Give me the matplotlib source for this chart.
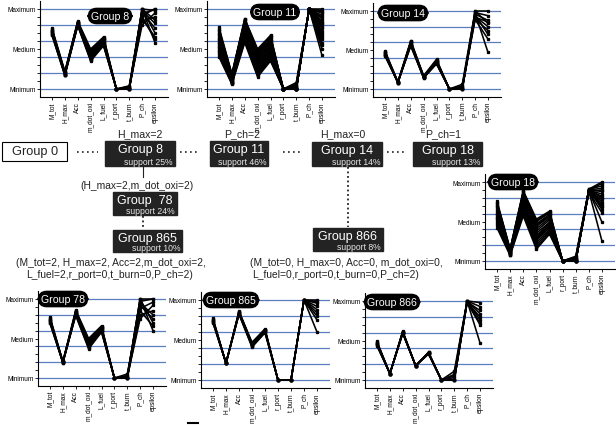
import matplotlib
matplotlib.use('Agg')
import matplotlib.pyplot as plt
from matplotlib.patches import Rectangle

plt.rcParams['font.family'] = ['Liberation Sans', 'DejaVu Sans']

params = ['M_tot', 'H_max', 'Acc', 'm_dot_oxi', 'L_fuel', 'r_port', 't_burn', 'P_ch', 'epsilon']
level_ticks = [0, 0.5, 1]
level_labels = ['Minimum', 'Medium', 'Maximum']

# normalised values, one row per design, columns in order of params
g8_lines = [
    [0.76, 0.22, 0.85, 0.50, 0.65, 0, 0.00, 1.00, 0.98],
    [0.75, 0.21, 0.84, 0.47, 0.64, 0, 0.02, 0.98, 0.82],
    [0.74, 0.20, 0.84, 0.45, 0.62, 0, 0.00, 1.00, 0.70],
    [0.73, 0.20, 0.83, 0.44, 0.61, 0, 0.03, 0.92, 1.00],
    [0.72, 0.19, 0.82, 0.42, 0.60, 0, 0.00, 0.85, 0.90],
    [0.71, 0.19, 0.82, 0.40, 0.59, 0, 0.04, 1.00, 0.58],
    [0.70, 0.18, 0.81, 0.39, 0.57, 0, 0.00, 0.96, 0.76],
    [0.69, 0.18, 0.80, 0.37, 0.56, 0, 0.02, 0.80, 0.95],
    [0.68, 0.17, 0.80, 0.36, 0.55, 0, 0.00, 0.88, 0.65],
    [0.67, 0.17, 0.79, 0.35, 0.54, 0, 0.01, 1.00, 0.86],
    [0.73, 0.21, 0.83, 0.48, 0.63, 0, 0.00, 0.90, 0.62],
    [0.70, 0.18, 0.81, 0.38, 0.58, 0, 0.00, 0.94, 1.00],
]
g11_lines = [
    [0.77, 0.19, 0.88, 0.50, 0.67, 0, 0.00, 1, 1.00],
    [0.75, 0.18, 0.87, 0.48, 0.66, 0, 0.01, 1, 0.83],
    [0.74, 0.18, 0.86, 0.47, 0.65, 0, 0.02, 1, 0.95],
    [0.72, 0.17, 0.84, 0.45, 0.63, 0, 0.00, 1, 0.88],
    [0.70, 0.16, 0.83, 0.43, 0.61, 0, 0.05, 1, 0.98],
    [0.69, 0.16, 0.82, 0.42, 0.60, 0, 0.00, 1, 0.62],
    [0.67, 0.15, 0.81, 0.41, 0.59, 0, 0.00, 1, 0.80],
    [0.65, 0.14, 0.79, 0.39, 0.57, 0, 0.03, 1, 0.92],
    [0.63, 0.14, 0.78, 0.37, 0.55, 0, 0.00, 1, 0.76],
    [0.62, 0.13, 0.77, 0.36, 0.54, 0, 0.00, 1, 0.72],
    [0.60, 0.12, 0.75, 0.34, 0.52, 0, 0.08, 1, 0.85],
    [0.58, 0.12, 0.74, 0.32, 0.50, 0, 0.00, 1, 0.55],
    [0.57, 0.11, 0.73, 0.31, 0.49, 0, 0.00, 1, 0.65],
    [0.55, 0.10, 0.71, 0.29, 0.47, 0, 0.02, 1, 0.96],
    [0.53, 0.10, 0.70, 0.27, 0.45, 0, 0.00, 1, 0.70],
    [0.52, 0.09, 0.69, 0.26, 0.44, 0, 0.00, 1, 0.58],
    [0.50, 0.09, 0.67, 0.24, 0.42, 0, 0.04, 1, 0.90],
    [0.48, 0.08, 0.66, 0.22, 0.41, 0, 0.00, 1, 0.82],
    [0.47, 0.08, 0.65, 0.21, 0.40, 0, 0.00, 1, 0.50],
    [0.45, 0.07, 0.63, 0.19, 0.38, 0, 0.01, 1, 0.78],
    [0.42, 0.07, 0.60, 0.17, 0.36, 0, 0.00, 1, 0.42],
    [0.40, 0.06, 0.58, 0.15, 0.35, 0, 0.06, 1, 0.68],
]
g14_lines = [
    [0.49, 0.09, 0.62, 0.17, 0.38, 0, 0.00, 1.00, 1.00],
    [0.48, 0.09, 0.61, 0.16, 0.37, 0, 0.02, 0.98, 0.94],
    [0.47, 0.08, 0.60, 0.16, 0.36, 0, 0.00, 0.96, 0.88],
    [0.46, 0.08, 0.59, 0.15, 0.35, 0, 0.06, 1.00, 0.84],
    [0.45, 0.09, 0.58, 0.15, 0.34, 0, 0.00, 0.93, 0.80],
    [0.44, 0.08, 0.57, 0.14, 0.33, 0, 0.03, 0.90, 0.75],
    [0.43, 0.08, 0.56, 0.14, 0.33, 0, 0.00, 0.95, 0.70],
    [0.42, 0.09, 0.55, 0.15, 0.32, 0, 0.01, 0.89, 0.64],
    [0.46, 0.08, 0.60, 0.16, 0.36, 0, 0.00, 0.97, 0.47],
    [0.44, 0.09, 0.57, 0.15, 0.34, 0, 0.04, 0.92, 0.86],
]
g18_lines = [
    [0.76, 0.15, 0.89, 0.53, 0.63, 0, 0.00, 0.91, 1.00],
    [0.74, 0.15, 0.88, 0.51, 0.62, 0, 0.00, 0.90, 0.80],
    [0.73, 0.14, 0.87, 0.50, 0.61, 0, 0.03, 0.90, 0.92],
    [0.71, 0.14, 0.85, 0.47, 0.59, 0, 0.00, 0.89, 0.85],
    [0.68, 0.13, 0.82, 0.44, 0.56, 0, 0.06, 0.91, 0.95],
    [0.66, 0.12, 0.80, 0.41, 0.54, 0, 0.00, 0.88, 0.78],
    [0.63, 0.12, 0.78, 0.38, 0.52, 0, 0.02, 0.90, 0.88],
    [0.61, 0.11, 0.75, 0.35, 0.49, 0, 0.00, 0.87, 0.70],
    [0.58, 0.11, 0.73, 0.32, 0.47, 0, 0.04, 0.89, 0.82],
    [0.56, 0.10, 0.70, 0.29, 0.45, 0, 0.00, 0.91, 0.65],
    [0.54, 0.10, 0.69, 0.27, 0.43, 0, 0.00, 0.90, 0.72],
    [0.53, 0.09, 0.68, 0.26, 0.42, 0, 0.01, 0.88, 0.90],
    [0.51, 0.09, 0.65, 0.23, 0.40, 0, 0.00, 0.87, 0.61],
    [0.48, 0.08, 0.63, 0.20, 0.38, 0, 0.05, 0.90, 0.75],
    [0.45, 0.08, 0.60, 0.17, 0.36, 0, 0.00, 0.89, 0.49],
    [0.42, 0.07, 0.57, 0.15, 0.34, 0, 0.02, 0.88, 0.25],
    [0.60, 0.10, 0.72, 0.30, 0.48, 0, 0.00, 0.90, 0.98],
    [0.70, 0.13, 0.84, 0.45, 0.58, 0, 0.00, 0.89, 0.68],
]
g78_lines = [
    [0.77, 0.21, 0.86, 0.50, 0.66, 0, 0.00, 1.00, 1.00],
    [0.76, 0.20, 0.85, 0.48, 0.65, 0, 0.03, 0.95, 0.80],
    [0.75, 0.20, 0.84, 0.46, 0.64, 0, 0.00, 1.00, 0.70],
    [0.74, 0.19, 0.83, 0.44, 0.63, 0, 0.05, 0.88, 0.96],
    [0.73, 0.20, 0.82, 0.42, 0.62, 0, 0.00, 0.80, 0.85],
    [0.72, 0.21, 0.82, 0.41, 0.61, 0, 0.02, 1.00, 0.60],
    [0.71, 0.20, 0.81, 0.39, 0.60, 0, 0.00, 0.92, 0.75],
    [0.70, 0.19, 0.80, 0.38, 0.59, 0, 0.01, 0.75, 0.92],
    [0.69, 0.20, 0.79, 0.37, 0.58, 0, 0.00, 0.85, 0.66],
    [0.74, 0.20, 0.83, 0.45, 0.63, 0, 0.00, 0.97, 1.00],
]
g865_lines = [
    [0.77, 0.21, 0.86, 0.47, 0.64, 0, 0, 1, 1.00],
    [0.76, 0.21, 0.85, 0.46, 0.63, 0, 0, 1, 0.96],
    [0.75, 0.21, 0.85, 0.45, 0.62, 0, 0, 1, 0.92],
    [0.74, 0.21, 0.84, 0.44, 0.62, 0, 0, 1, 0.88],
    [0.73, 0.21, 0.83, 0.43, 0.61, 0, 0, 1, 0.84],
    [0.72, 0.21, 0.83, 0.42, 0.60, 0, 0, 1, 0.80],
    [0.71, 0.21, 0.82, 0.41, 0.59, 0, 0, 1, 0.75],
    [0.74, 0.21, 0.84, 0.44, 0.61, 0, 0, 1, 0.60],
    [0.75, 0.21, 0.85, 0.45, 0.62, 0, 0, 1, 0.98],
]
g866_lines = [
    [0.49, 0.08, 0.62, 0.18, 0.35, 0, 0.00, 1.00, 0.98],
    [0.48, 0.08, 0.61, 0.18, 0.35, 0, 0.05, 1.00, 0.93],
    [0.47, 0.08, 0.61, 0.18, 0.34, 0, 0.00, 0.99, 0.88],
    [0.46, 0.08, 0.60, 0.18, 0.34, 0, 0.11, 1.00, 0.84],
    [0.45, 0.08, 0.60, 0.18, 0.34, 0, 0.00, 0.98, 0.80],
    [0.44, 0.08, 0.59, 0.18, 0.33, 0, 0.03, 1.00, 0.76],
    [0.43, 0.08, 0.59, 0.18, 0.33, 0, 0.00, 0.99, 0.72],
    [0.46, 0.08, 0.60, 0.18, 0.34, 0, 0.07, 1.00, 0.47],
    [0.47, 0.08, 0.61, 0.18, 0.35, 0, 0.00, 0.98, 0.70],
]

W, H = 616, 427
fig = plt.figure(figsize=(W / 100, H / 100), dpi=100)
grid_c = '#5a7dbf'


def panel(lines, x0, x1, ymax, ymin):
    # x0/x1 = pixel x of first/last parameter, ymax/ymin = pixel y of Maximum/Minimum lines
    dx = (x1 - x0) / 8
    dy = ymin - ymax
    left, right = x0 - 0.93 * dx, x1 + 1.0 * dx
    top, bottom = ymax - 0.1 * dy, ymin + 0.1 * dy
    ax = fig.add_axes([left / W, 1 - bottom / H, (right - left) / W, (bottom - top) / H])
    ax.set_xlim(-0.93, 9.0)
    ax.set_ylim(-0.1, 1.1)
    for v in [0, 0.2, 0.4, 0.6, 0.8, 1.0]:
        ax.axhline(v, color=grid_c, lw=0.9, zorder=1)
    for row in lines:
        ax.plot(range(len(params)), row, color='black', lw=1.15, marker='s', ms=1.4, zorder=3)
    ax.spines['top'].set_visible(False)
    ax.spines['right'].set_visible(False)
    for s in ['left', 'bottom']:
        ax.spines[s].set_linewidth(0.8)
    ax.set_yticks(level_ticks)
    ax.set_yticklabels(level_labels)
    ax.set_yticks([0.1, 0.2, 0.3, 0.4, 0.6, 0.7, 0.8, 0.9], minor=True)
    ax.set_xticks(range(len(params)))
    ax.set_xticklabels(params, rotation=90)
    ax.tick_params(axis='both', which='both', direction='out', length=2, width=0.6,
                   labelsize=4.7, pad=1)
    ax.patch.set_alpha(0)
    return ax


panel(g8_lines, 52, 155, 10, 90)
panel(g11_lines, 219, 322, 10, 90)
panel(g14_lines, 385, 488, 12, 90)
panel(g18_lines, 497, 602, 183, 262)
panel(g78_lines, 50, 153, 300, 379)
panel(g865_lines, 213, 317, 301, 381)
panel(g866_lines, 377, 480, 302, 381)

# overlay for the tree and the labels
ov = fig.add_axes([0, 0, 1, 1])
ov.set_xlim(0, W)
ov.set_ylim(H, 0)
ov.axis('off')
ov.patch.set_alpha(0)

# group badges inside the panels
badges = [('Group 8', 110, 17), ('Group 11', 275, 13), ('Group 14', 403, 14),
          ('Group 18', 513, 183), ('Group 78', 63, 300), ('Group 865', 231, 301),
          ('Group 866', 392, 303)]
for name, bx, by in badges:
    ov.text(bx, by, name, ha='center', va='center', color='white', fontsize=7.6,
            zorder=10,
            bbox=dict(boxstyle='round,pad=0.25,rounding_size=0.8', fc='black', ec='black'))

# tree boxes
ov.add_patch(Rectangle((2, 143), 65, 19, fc='white', ec='black', lw=0.8))
ov.text(35, 152.5, 'Group 0', ha='center', va='center', fontsize=9.2, color='#222222')

boxes = [('Group 8', 'support 25%', 105, 142, 175, 167),
         ('Group 11', 'support 46%', 210, 142, 268, 167),
         ('Group 14', 'support 14%', 312, 143, 382, 167),
         ('Group 18', 'support 13%', 413, 143, 482, 167),
         ('Group  78', 'support 24%', 113, 193, 177, 216),
         ('Group 865', 'support 10%', 113, 231, 182, 253),
         ('Group 866', 'support 8%', 313, 229, 383, 252)]
for name, sup, bx0, by0, bx1, by1 in boxes:
    ov.add_patch(Rectangle((bx0, by0), bx1 - bx0, by1 - by0, fc='#232323', ec='#232323'))
    ov.text((bx0 + bx1) / 2, by0 + 8.5, name, ha='center', va='center', fontsize=9,
            color='white')
    ov.text(bx1 - 2, by1 - 4.5, sup, ha='right', va='center', fontsize=6.2,
            color='#e8e8e8')

# rules above the first row of boxes
for txt, tx in [('H_max=2', 140), ('P_ch=2', 242), ('H_max=0', 343), ('P_ch=1', 443)]:
    ov.text(tx, 134, txt, ha='center', va='center', fontsize=7.6, color='#222222')

# dotted connectors
for a, b in [(77, 98), (180, 199), (283, 302), (387, 406)]:
    ov.plot([a, b], [153, 153], color='#222222', lw=1.2, ls=(0, (1, 2)))
ov.plot([143, 143], [167, 178], color='#222222', lw=0.8)
ov.plot([143, 143], [217, 230], color='#222222', lw=1.3, ls=(0, (1, 1.5)))
ov.plot([348, 348], [168, 228], color='#222222', lw=1.3, ls=(0, (1, 1.5)))

ov.text(137, 186, '(H_max=2,m_dot_oxi=2)', ha='center', va='center', fontsize=7.4,
        color='#222222')
ov.text(111, 263, '(M_tot=2, H_max=2, Acc=2,m_dot_oxi=2,', ha='center', va='center',
        fontsize=7.4, color='#222222')
ov.text(110, 275, 'L_fuel=2,r_port=0,t_burn=0,P_ch=2)', ha='center', va='center',
        fontsize=7.4, color='#222222')
ov.text(346, 263, '(M_tot=0, H_max=0, Acc=0, m_dot_oxi=0,', ha='center', va='center',
        fontsize=7.4, color='#222222')
ov.text(336, 275, 'L_fuel=0,r_port=0,t_burn=0,P_ch=2)', ha='center', va='center',
        fontsize=7.4, color='#222222')

ov.plot([188, 198], [424, 424], color='black', lw=1.5)

fig.savefig('out.png', dpi=100)
